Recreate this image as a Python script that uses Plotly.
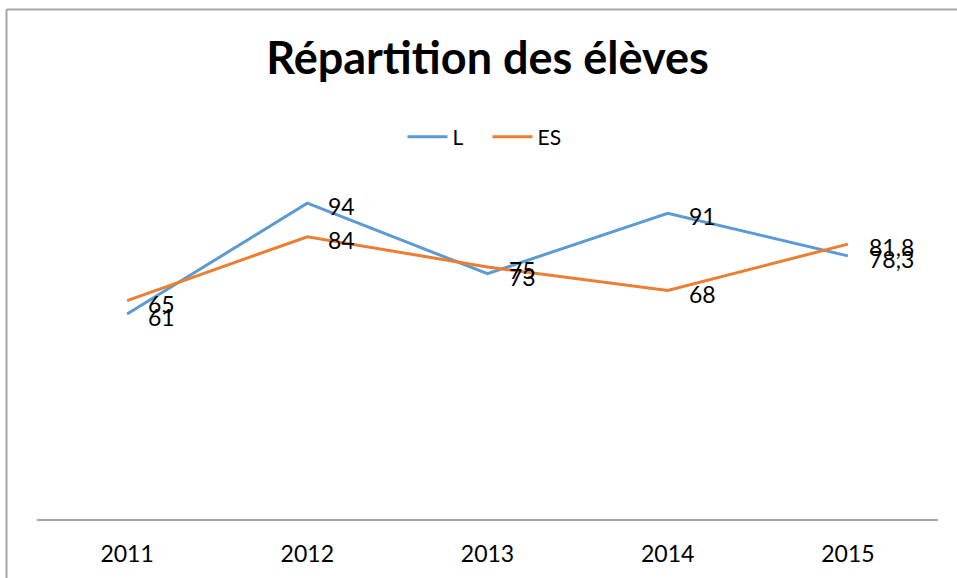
import plotly.graph_objects as go

years = ["2011", "2012", "2013", "2014", "2015"]
serie_L = [61, 94, 73, 91, 78.3]
serie_ES = [65, 84, 75, 68, 81.8]
labels_L = ["61", "94", "73", "91", "78,3"]
labels_ES = ["65", "84", "75", "68", "81,8"]

FONT = "Lato, Calibri, Carlito, sans-serif"

fig = go.Figure()
annotations = []
for name, vals, labs, col in [("L", serie_L, labels_L, "#5B9BD5"),
                              ("ES", serie_ES, labels_ES, "#ED7D31")]:
    fig.add_trace(go.Scatter(
        x=years, y=vals, name=name, mode="lines",
        line=dict(color=col, width=3),
    ))
    # category axis: annotation x is the category's serial number
    for idx, (yv, t) in enumerate(zip(vals, labs)):
        annotations.append(dict(
            x=idx, y=yv, xref="x", yref="y", text=t, showarrow=False,
            xanchor="left", yanchor="middle", xshift=19, yshift=-3,
            font=dict(size=23, color="#000000", family=FONT),
        ))

W, H = 957, 578
ml, mr, mt, mb = 37, 19, 183, 59
pw, ph = W - ml - mr, H - mt - mb

fig.update_layout(
    width=W, height=H,
    margin=dict(l=ml, r=mr, t=mt, b=mb, pad=0, autoexpand=False),
    paper_bgcolor="white", plot_bgcolor="white",
    font=dict(family=FONT, color="#000000"),
    title=dict(text="<b>Répartition des élèves</b>", x=(ml + pw / 2) / W, xanchor="center",
               y=1 - 58 / H, yanchor="middle", font=dict(size=45, family=FONT, color="#000000")),
    legend=dict(orientation="h", x=0.5, xref="paper", xanchor="center",
                y=(ph + mt - 137) / ph, yref="paper", yanchor="middle",
                font=dict(size=21, family=FONT), itemwidth=40,
                entrywidth=30, entrywidthmode="pixels",
                bgcolor="rgba(0,0,0,0)", traceorder="normal"),
    showlegend=True,
    annotations=annotations,
    xaxis=dict(type="category", range=[-0.5, 4.5], showgrid=False, zeroline=False,
               automargin=False,
               showline=True, linecolor="#A6A6A6", linewidth=1.5, ticks="",
               tickfont=dict(size=23, family=FONT, color="#000000"), ticklabelstandoff=14),
    yaxis=dict(range=[0, 100], showgrid=False, zeroline=False, showticklabels=False,
               showline=False, automargin=False),
)

# outer chart frame (top and left edges visible)
x_left = (6.5 - ml) / pw
y_top = (H - mb - 9.5) / ph
fig.add_shape(type="line", xref="paper", yref="paper", x0=x_left, x1=(W + 5 - ml) / pw,
              y0=y_top, y1=y_top, line=dict(color="#A6A6A6", width=2))
fig.add_shape(type="line", xref="paper", yref="paper", x0=x_left, x1=x_left,
              y0=y_top, y1=-(mb + 5) / ph, line=dict(color="#A6A6A6", width=2))

fig.write_html("out.html", config={"displayModeBar": False},
               post_script="document.body.style.margin='0px';document.body.style.overflow='hidden';")
